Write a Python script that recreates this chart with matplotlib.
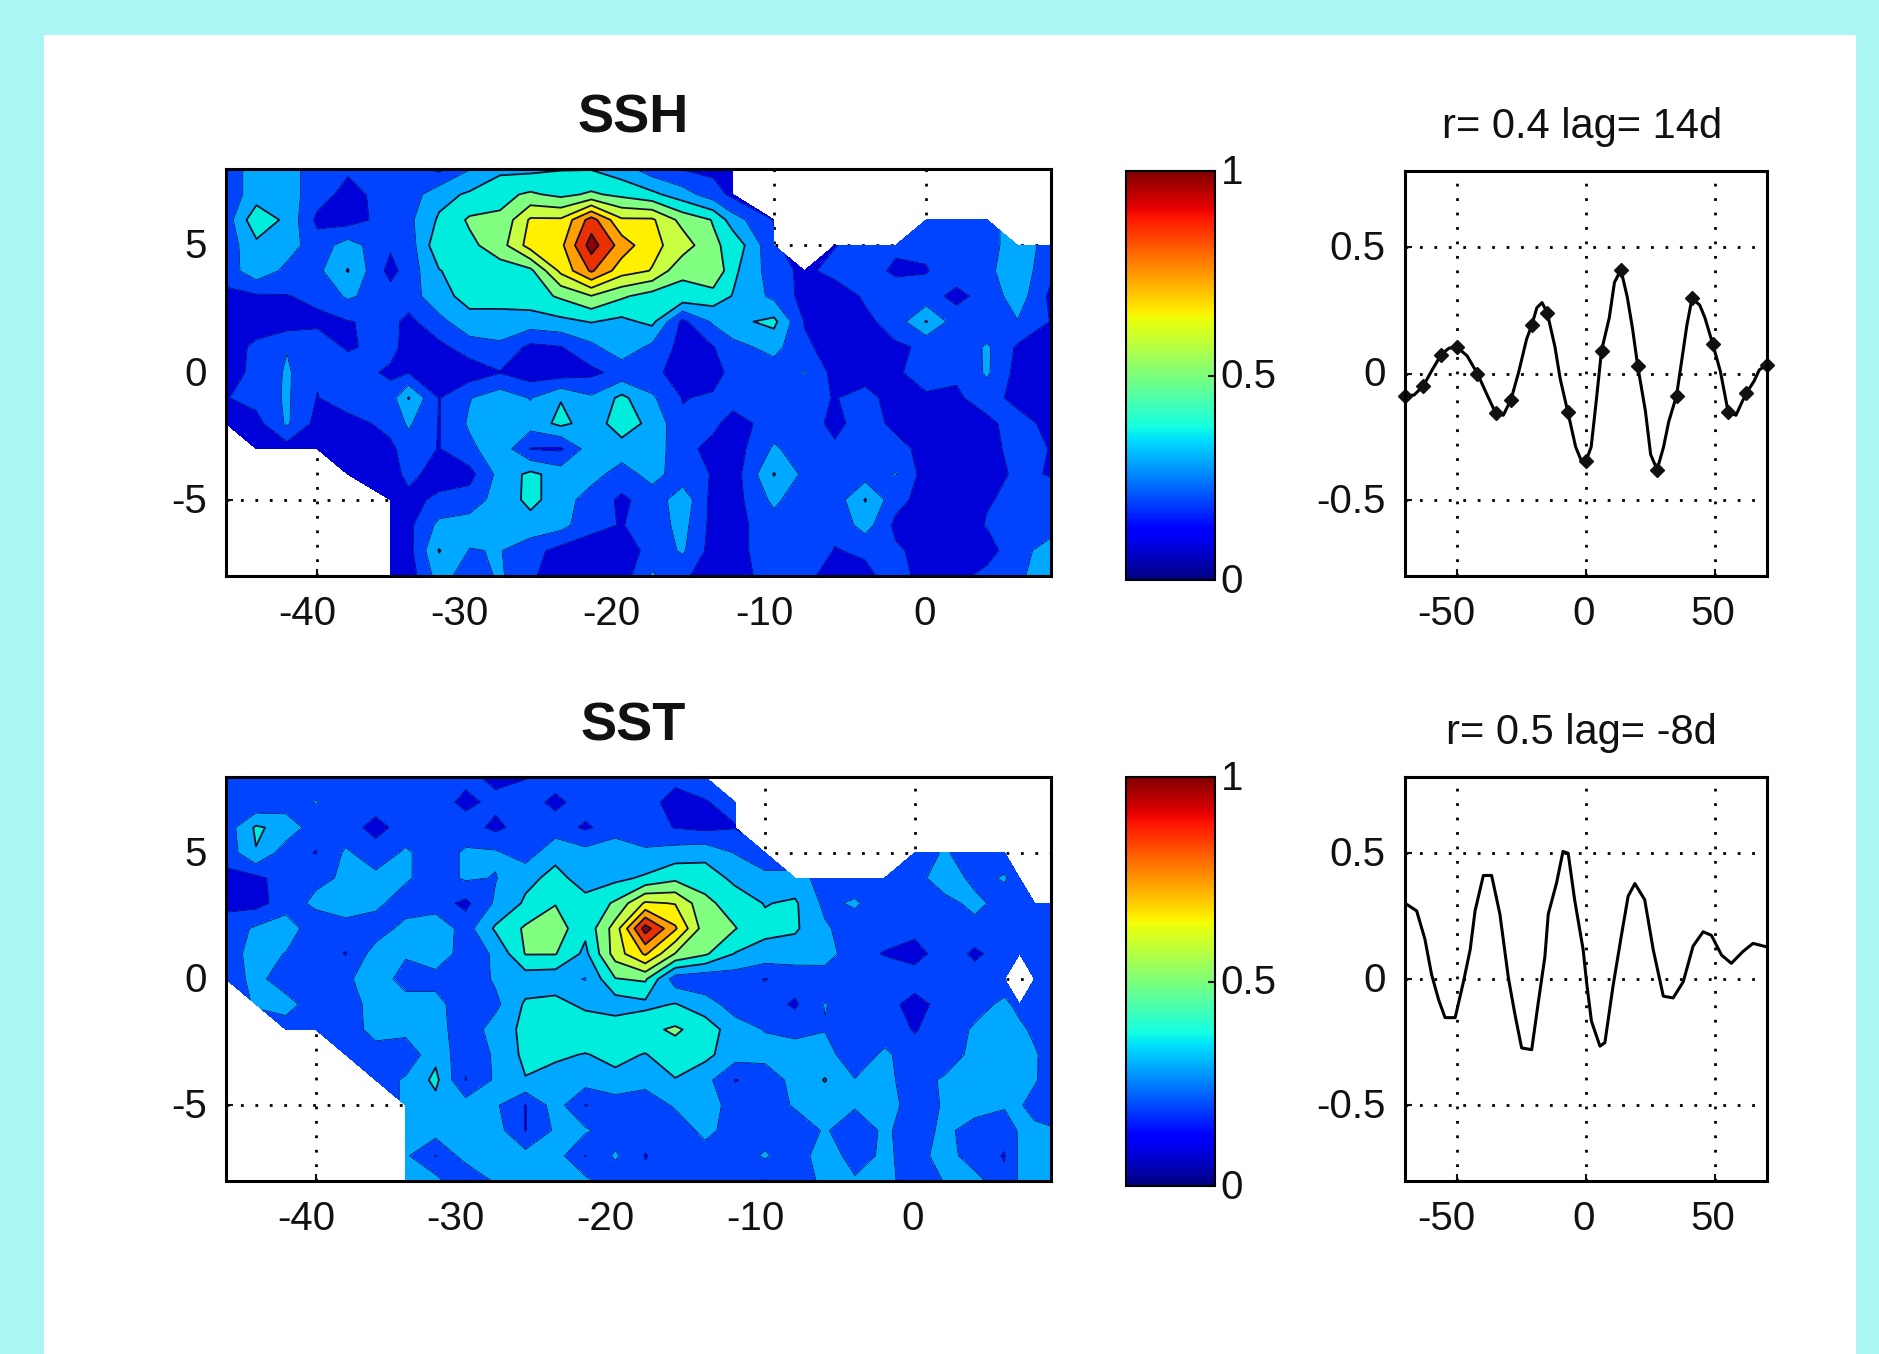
import numpy as np
import matplotlib
matplotlib.use("Agg")
from matplotlib import pyplot as plt
from matplotlib.cm import ScalarMappable
from matplotlib.colors import Normalize
from matplotlib.transforms import ScaledTranslation

plt.rcParams['font.family'] = ['Liberation Sans', 'DejaVu Sans']

W, H = 1879, 1354
nan = float('nan')

# band edges and fill colours
levels = [0, .105, .205, .305, .405, .505, .605, .705, .805, .905, 1.0]
band_colors = ['#0000d8', '#0044ff', '#00a8ff', '#00ecdc', '#80ff80',
               '#c8ff40', '#fff000', '#ffa000', '#e83000', '#960000']

lat = [8, 7, 6, 5, 4, 3, 2, 1, 0, -1, -2, -3, -4, -5, -6, -7, -8]

ssh_lon = [-46, -44, -42, -40, -38, -35.2, -34, -32, -30, -28, -26, -24, -22, -20,
           -18, -16, -14, -12.7, -10, -8, -6, -4, -2, 0, 2, 4, 6, 8.2]
ssh = [
    [.15, .25, .25, .15, .12, .15, .15, .08, .2, .28, .28, .3, .3, .25, .15, .1, .08, .08] + [nan] * 10,
    [.15, .25, .25, .15, .07, .15, .15, .27, .32, .38, .42, .38, .42, .38, .33, .25, .15, .08] + [nan] * 10,
    [.15, .38, .28, .08, .06, .15, .18, .32, .42, .42, .62, .62, .85, .62, .62, .47, .4, .25, .1, nan, nan, nan, nan, .15, .15, .15, nan, nan],
    [.15, .28, .25, .15, .25, .12, .15, .38, .38, .46, .65, .68, .95, .76, .63, .56, .42, .38, .12, nan, .1, .15, .12, .12, .15, .15, .28, .15],
    [.15, .27, .18, .18, .31, .07, .15, .3, .36, .36, .38, .63, .82, .65, .6, .42, .5, .33, .15, .08, .14, .14, .09, .1, .15, .18, .27, .13],
    [.08, .09, .1, .13, .22, .15, .15, .28, .33, .33, .36, .42, .5, .42, .36, .38, .36, .3, .18, .07, .04, .12, .15, .14, .08, .14, .26, .08],
    [.07, .07, .05, .08, .1, .13, .08, .17, .28, .28, .26, .28, .31, .28, .33, .08, .22, .28, .33, .1, .05, .08, .15, .31, .15, .12, .2, .1],
    [.07, .12, .2, .17, .09, .15, .05, .08, .15, .18, .08, .1, .18, .27, .18, .07, .1, .17, .24, .12, .07, .08, .09, .12, .13, .22, .09, .07],
    [.08, .12, .22, .12, .17, .08, .1, .07, .05, .1, .05, .05, .08, .14, .13, .06, .06, .14, .15, .21, .07, .06, .1, .12, .12, .22, .07, .05],
    [.1, .14, .22, .1, .17, .16, .31, .1, .2, .26, .2, .3, .22, .33, .22, .1, .12, .15, .15, .14, .1, .14, .06, .1, .09, .15, .07, .06],
    [.07, .07, .22, .07, .06, .14, .22, .1, .22, .27, .25, .33, .26, .35, .28, .12, .13, .06, .15, .15, .08, .15, .08, .06, .07, .08, .15, .07],
    [nan, .07, .06, .06, .05, .08, .16, .1, .18, .27, .1, .09, .26, .27, .26, .14, .07, .05, .22, .15, .12, .15, .14, .07, .06, .06, .15, .1],
    [nan, nan, nan, nan, .05, .05, .14, .05, .07, .24, .33, .26, .25, .15, .25, .14, .1, .05, .31, .18, .15, .16, .21, .06, .05, .07, .12, .1],
    [nan, nan, nan, nan, nan, .06, .07, .13, .15, .25, .33, .26, .15, .09, .14, .27, .07, .06, .23, .13, .15, .31, .14, .06, .03, .1, .12, .14],
    [nan, nan, nan, nan, nan, .05, .08, .23, .25, .24, .27, .24, .13, .1, .15, .24, .07, .07, .16, .16, .13, .25, .08, .07, .06, .11, .14, .15],
    [nan, nan, nan, nan, nan, .06, .07, .31, .2, .21, .14, .07, .06, .05, .14, .22, .06, .07, .16, .17, .1, .12, .12, .07, .06, .07, .16, .26],
    [nan, nan, nan, nan, nan, .05, .05, .25, .15, .22, .12, .05, .05, .05, .22, .12, .06, .06, .15, .12, .08, .08, .15, .06, .08, .13, .2, .22],
]

sst_lon = [-46, -44, -42, -40, -38, -36, -34, -32, -30, -28, -26, -24, -22, -20, -18,
           -16, -14, -12, -10, -8, -6, -4, -2, 0, 2, 4, 6, 7, 8, 9.1]
sst = [
    [.15, .15, .15, .15, .15, .15, .15, .13, .13, .08, .1, .15, .15, .15, .15, .13, .14] + [nan] * 13,
    [.15, .12, .15, .21, .15, .15, .13, .15, .08, .13, .15, .08, .15, .15, .14, .07, .1, .13] + [nan] * 12,
    [.15, .32, .27, .15, .15, .07, .15, .15, .15, .08, .15, .15, .09, .15, .15, .1, .08, .1] + [nan] * 12,
    [.14, .3, .15, .1, .22, .15, .22, .15, .22, .22, .15, .28, .24, .28, .22, .25, .27, .2, .12, nan, nan, nan, nan, .13, .22, .13, .12, nan, nan, nan],
    [.08, .08, .15, .18, .22, .23, .22, .15, .22, .2, .28, .33, .27, .28, .32, .38, .36, .28, .24, .24, .17, .14, .13, .14, .3, .16, .22, .12, nan, nan],
    [.08, .07, .15, .23, .28, .23, .15, .15, .08, .22, .32, .4, .33, .42, .62, .6, .43, .36, .3, .32, .18, .22, .14, .14, .15, .25, .14, .14, .14, .13],
    [.15, .22, .27, .13, .15, .15, .24, .28, .16, .32, .42, .46, .33, .55, .95, .72, .45, .41, .33, .32, .22, .15, .14, .13, .15, .15, .15, .14, .14, .13],
    [.15, .25, .2, .15, .1, .25, .22, .28, .15, .22, .41, .41, .28, .55, .72, .5, .42, .3, .27, .25, .26, .13, .1, .07, .15, .09, .14, .14, .12, .14],
    [.14, .24, .14, .15, .18, .28, .15, .16, .13, .22, .25, .24, .2, .4, .42, .15, .13, .15, .1, .15, .14, .14, .15, .15, .14, .14, .14, nan, .14, .14],
    [nan, .22, .25, .14, .15, .25, .26, .25, .12, .18, .32, .34, .28, .25, .28, .31, .25, .16, .15, .09, .21, .15, .14, .07, .14, .16, .23, .17, .14, .15],
    [nan, nan, .15, .13, .14, .25, .24, .25, .14, .25, .33, .37, .38, .37, .38, .42, .36, .25, .2, .16, .2, .15, .14, .1, .14, .22, .23, .23, .18, .14],
    [nan, nan, nan, nan, .14, .15, .13, .28, .13, .22, .33, .32, .3, .33, .3, .36, .33, .25, .24, .28, .25, .13, .23, .13, .14, .24, .26, .25, .22, .15],
    [nan, nan, nan, nan, nan, .15, .22, .33, .1, .22, .3, .27, .25, .28, .25, .3, .24, .1, .14, .24, .31, .21, .23, .16, .22, .25, .25, .24, .22, .14],
    [nan] * 6 + [.22, .27, .25, .22, .1, .25, .1, .15, .13, .22, .27, .15, .13, .22, .25, .22, .28, .13, .22, .27, .22, .22, .15, .13],
    [nan] * 6 + [.22, .25, .24, .25, .1, .22, .22, .15, .15, .13, .24, .15, .15, .12, .22, .12, .23, .13, .24, .14, .13, .22, .24, .22],
    [nan] * 6 + [.22, .1, .25, .22, .24, .25, .1, .22, .1, .15, .15, .14, .22, .13, .28, .15, .23, .15, .26, .14, .1, .22, .24, .24],
    [nan] * 6 + [.22, .24, .1, .22, .22, .24, .23, .14, .13, .15, .14, .13, .1, .12, .24, .22, .25, .13, .21, .25, .12, .22, .22, .24],
]

# lagged correlation, SSH
lag1 = [-70, -66.5, -63, -59.5, -56, -53, -50, -46, -42, -38, -35, -32, -29, -26, -23, -21, -19, -17, -15,
        -12, -10, -7, -4, -2, 0, 2, 4, 6, 9, 11, 13.5, 16, 18, 20, 23, 25, 27.5, 30, 32, 35, 37, 39, 41, 44,
        46, 49, 52, 55, 58, 60, 62, 65, 67, 70]
corr1 = [-.088, -.085, -.05, .014, .075, .1, .105, .07, 0, -.09, -.155, -.165, -.103, .007, .135, .19, .26, .28, .24,
         .105, -.02, -.153, -.29, -.34, -.346, -.29, -.105, .09, .22, .36, .41, .3, .177, .03, -.15, -.32, -.38, -.29, -.19, -.088, .05, .19, .297, .27,
         .22, .117, .007, -.153, -.165, -.12, -.078, -.03, .014, .035]
mark_lag1 = [-70, -63, -56, -50, -42, -35, -29, -21, -15, -7, 0, 6, 13.5, 20, 27.5, 35, 41, 49, 55, 62, 70]
mark_corr1 = [-.088, -.05, .075, .105, 0, -.155, -.103, .19, .24, -.153, -.346, .09, .41, .03, -.38, -.088, .297, .117, -.153, -.078, .035]

# lagged correlation, SST
lag2 = [-70, -65.5, -62.3, -59.7, -57, -54.5, -50.6, -47.4, -44.8, -42.9, -39.7, -36.5, -33.3, -30, -27.5, -24.9,
        -21, -18.5, -15.9, -14.6, -11.4, -8.9, -6.9, -4.4, -1.1, .2, 2.1, 5.4, 7.3, 10.5, 13.7, 16.3, 18.9, 22.7,
        26, 29.9, 33.7, 37.6, 41.4, 45.3, 48.5, 52.4, 56.2, 60.7, 64.6, 70]
corr2 = [.3, .27, .158, .017, -.082, -.153, -.153, -.011, .116, .27, .41, .41, .257, .003, -.139, -.273,
         -.28, -.096, .088, .257, .38, .505, .498, .314, .116, -.011, -.167, -.266, -.252, -.025, .173, .328, .378, .314,
         .116, -.068, -.075, -.011, .13, .187, .173, .095, .062, .109, .141, .127]


def axes_px(left, top, right, bottom):
    return fig.add_axes([left / W, 1 - bottom / H, (right - left) / W, (bottom - top) / H])


def nudge(label, dx, dy):
    # matlab puts its tick labels a little off the tick
    label.set_transform(label.get_transform() + ScaledTranslation(dx / 100, dy / 100, fig.dpi_scale_trans))


def style(ax, xticks, yticks):
    ax.set_xticks(xticks)
    ax.set_yticks(yticks)
    ax.set_xticklabels([str(t) for t in xticks])
    ax.set_yticklabels([str(t) for t in yticks])
    ax.tick_params(direction='in', length=5, width=1.5, labelsize=29, colors='#111111', pad=14)
    ax.set_axisbelow(True)
    ax.grid(True, color='black', linewidth=2, linestyle=(0, (1, 4.2)))
    for s in ax.spines.values():
        s.set_linewidth(2.2)
    for t, label in zip(xticks, ax.get_xticklabels()):
        nudge(label, -10 if t < 0 else -2, 0)
    for label in ax.get_yticklabels():
        nudge(label, 0, 2)


def draw_map(box, lon, field, xlim, title):
    ax = axes_px(*box)
    z = np.ma.masked_invalid(np.array(field))
    ax.contourf(lon, lat, z, levels=levels, colors=band_colors)
    ax.contour(lon, lat, z, levels=levels[1:3], colors='#000060', linewidths=0.5)
    ax.contour(lon, lat, z, levels=levels[3:], colors='#101030', linewidths=1.3)
    ax.set_xlim(*xlim)
    ax.set_ylim(-8, 8)
    style(ax, [-40, -30, -20, -10, 0], [-5, 0, 5])
    ax.set_title(title, fontsize=39, fontweight='bold', pad=26, x=0.493, color='#111111')


def draw_cbar(box):
    cax = axes_px(*box)
    cb = fig.colorbar(ScalarMappable(Normalize(0, 1), 'jet'), cax=cax, ticks=[0, .5, 1])
    cb.ax.set_yticklabels(['0', '0.5', '1'])
    cb.ax.tick_params(direction='in', length=5, width=1.5, labelsize=29, colors='#111111', pad=4)
    cb.outline.set_linewidth(1.5)
    for label in cb.ax.get_yticklabels():
        nudge(label, 0, 2)


def draw_line(box, lag, corr, title, mark_x=None, mark_y=None):
    ax = axes_px(*box)
    ax.plot(lag, corr, color='black', linewidth=2.2, clip_on=True)
    if mark_x is not None:
        ax.plot(mark_x, mark_y, linestyle='none', marker='D', color='#111111', markersize=7, clip_on=False)
    ax.set_xlim(-70, 70)
    ax.set_ylim(-.8, .8)
    style(ax, [-50, 0, 50], [-0.5, 0, 0.5])
    ax.set_title(title, fontsize=30, pad=24, x=0.488, color='#111111')


fig = plt.figure(figsize=(W / 100, H / 100), dpi=100, facecolor='#aaf6f4')
fig.patches.append(plt.Rectangle((44 / W, 0), (1856 - 44) / W, 1 - 35 / H, transform=fig.transFigure,
                                 facecolor='white', edgecolor='none', zorder=-1))

draw_map((226, 169, 1051, 576), ssh_lon, ssh, (-46, 8.2), 'SSH')
draw_map((226, 777, 1051, 1181), sst_lon, sst, (-46, 9.1), 'SST')
draw_cbar((1126, 171, 1215, 580))
draw_cbar((1126, 777, 1215, 1186))
draw_line((1405, 171, 1767, 576), lag1, corr1, 'r= 0.4 lag= 14d', mark_lag1, mark_corr1)
draw_line((1405, 777, 1767, 1181), lag2, corr2, 'r= 0.5 lag= -8d')

fig.savefig('out.png', dpi=100, facecolor=fig.get_facecolor())
